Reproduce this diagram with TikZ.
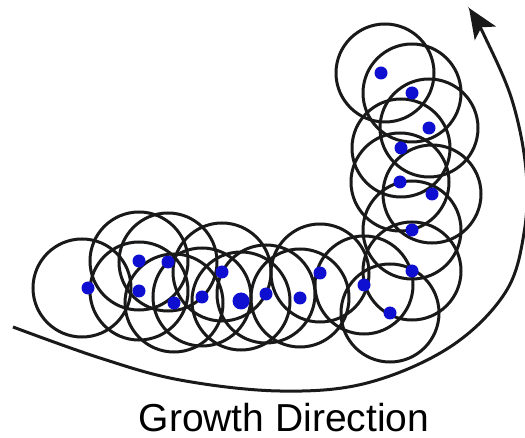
\documentclass[tikz,border=0pt]{standalone}
\usepackage{fontspec}
\setmainfont{Liberation Sans}
\usetikzlibrary{arrows.meta}
\definecolor{dotblue}{RGB}{15,15,210}
\begin{document}
\begin{tikzpicture}[x=1pt,y=-1pt,
  ring/.style={draw=black!90,line width=3pt},
  cell/.style={fill=dotblue},
  growth/.style={draw=black!90,line width=3pt,-{Stealth[length=30pt,width=25pt,inset=7pt]}}]
\useasboundingbox (0,0) rectangle (525,438);
\foreach \x/\y in {82/288,139/261,139/291,168/262,174/303,202/297,222/272,241/301,266/294,300/298,320/273,364/285,390/313,412/271,412/230,432/194,400/182,401/148,429/128,412/93,385/73}{
  \draw[ring] (\x,\y) circle (49);
}
\foreach \x/\y in {88/288,139/261,139/291,168/262,174/303,202/297,222/272,266/294,300/298,320/273,364/285,390/313,412/271,412/230,432/194,400/182,401/148,429/128,412/93,381/73}{
  \fill[cell] (\x,\y) circle (6.5);
}
\fill[cell] (241,301) circle (8.5);
\draw[growth] plot[smooth,tension=0.6] coordinates {(13,327) (100,358) (180,380) (280,391) (367,383) (450,347) (505,293) (524,233) (526,170) (512,100) (485,37) (469,8)};
\node[font=\fontsize{39}{40}\selectfont,anchor=base] (label) at (284,431) {Growth Direction};
\end{tikzpicture}
\end{document}
